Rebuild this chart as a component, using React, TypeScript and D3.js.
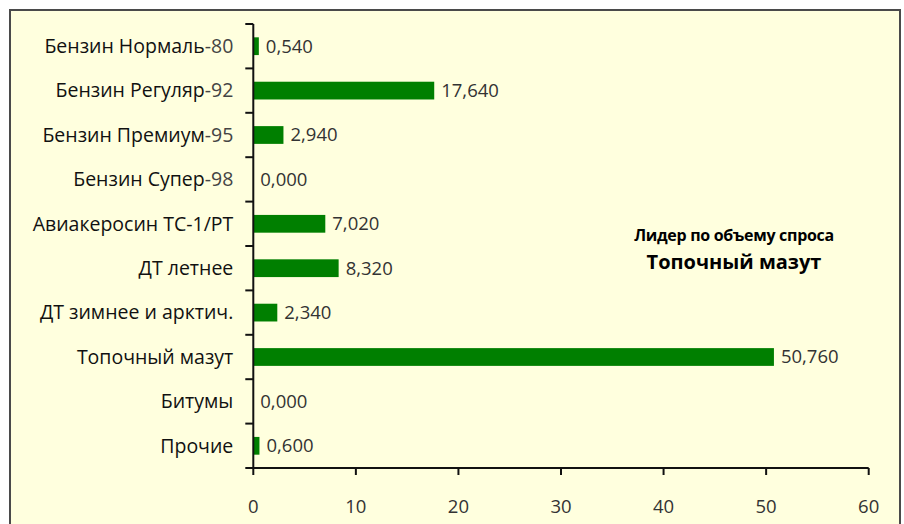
import React from "react";
import * as d3 from "d3";

const categories = [
  "Бензин Нормаль-80",
  "Бензин Регуляр-92",
  "Бензин Премиум-95",
  "Бензин Супер-98",
  "Авиакеросин ТС-1/РТ",
  "ДТ летнее",
  "ДТ зимнее и арктич.",
  "Топочный мазут",
  "Битумы",
  "Прочие",
];
const values = [0.54, 17.64, 2.94, 0, 7.02, 8.32, 2.34, 50.76, 0, 0.6];
const xTicks = [0, 10, 20, 30, 40, 50, 60];
const noteLine1 = "Лидер по объему спроса";
const noteLine2 = "Топочный мазут";

const W = 904;
const H = 524;
const left = 253.3;
const right = 868.7;
const top = 24;
const bottom = 468;
const FONT = "'Open Sans', 'Noto Sans', sans-serif";

function splitLabel(s: string) {
  const m = s.match(/^(.*?)(-\d+)$/);
  if (m) return [m[1], m[2]];
  return [s, ""];
}

export default function App() {
  const x = d3.scaleLinear().domain([0, 60]).range([left, right]);
  const y = d3.scaleBand<string>().domain(categories).range([top, bottom]).paddingInner(0.6).paddingOuter(0.3);
  const yb = d3.scaleBand<string>().domain(categories).range([top, bottom]);
  const fmt = (v: number) => v.toFixed(3).replace(".", ",");
  return (
    <svg width={W} height={H} style={{ position: "absolute", left: 0, top: 0 }} fontFamily={FONT}>
      <rect x={0} y={0} width={W} height={H} fill="#ffffff" />
      <rect x={10} y={10} width={890} height={H} fill="#ffffde" stroke="#4a4a4a" strokeWidth={2} />
      {categories.map((c, i) => (
        <rect
          key={c}
          x={x(0)}
          y={y(c)!}
          width={Math.max(0, x(values[i]) - x(0))}
          height={y.bandwidth()}
          fill="#007f00"
        />
      ))}
      {categories.map((c, i) => (
        <text
          key={"v" + c}
          x={x(values[i]) + 7}
          y={yb(c)! + yb.bandwidth() / 2}
          dy="0.35em"
          fontSize={18.5}
          fill="#333"
        >
          {fmt(values[i])}
        </text>
      ))}
      {categories.map((c) => {
        const [a, b] = splitLabel(c);
        return (
          <text
            key={"l" + c}
            x={left - 20}
            y={yb(c)! + yb.bandwidth() / 2}
            dy="0.35em"
            fontSize={19.5}
            textAnchor="end"
            fill="#111"
          >
            {a}
            {b && <tspan fill="#444">{b}</tspan>}
          </text>
        );
      })}
      {/* y axis */}
      <line x1={left} x2={left} y1={top} y2={bottom} stroke="#111" strokeWidth={2} />
      {d3.range(categories.length + 1).map((i) => {
        const yy = top + i * yb.step();
        return <line key={"yt" + i} x1={left - 8} x2={left} y1={yy} y2={yy} stroke="#111" strokeWidth={2} />;
      })}
      {/* x axis */}
      <line x1={left} x2={right} y1={bottom} y2={bottom} stroke="#111" strokeWidth={2} />
      {xTicks.map((t) => (
        <g key={"xt" + t}>
          <line x1={x(t)} x2={x(t)} y1={bottom} y2={bottom + 7} stroke="#111" strokeWidth={2} />
          <text x={x(t)} y={507} dy="0.35em" textAnchor="middle" fontSize={18.5} fill="#333">
            {t}
          </text>
        </g>
      ))}
      <text x={734} y={235} dy="0.35em" textAnchor="middle" fontSize={16} fontWeight="bold" fill="#000" letterSpacing={-0.3}>
        {noteLine1}
      </text>
      <text x={734} y={262} dy="0.35em" textAnchor="middle" fontSize={20} fontWeight="bold" fill="#000">
        {noteLine2}
      </text>
    </svg>
  );
}
